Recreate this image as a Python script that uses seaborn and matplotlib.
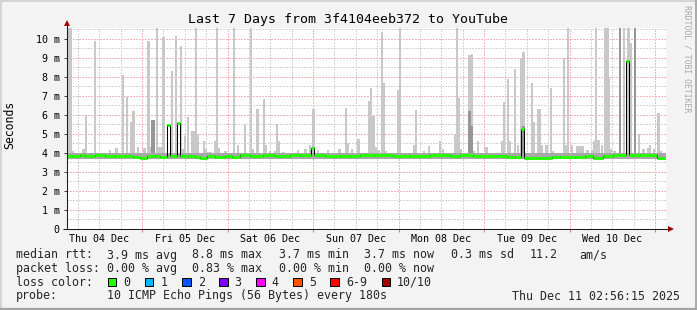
import numpy as np
import matplotlib
matplotlib.use("Agg")
import matplotlib.pyplot as plt
from matplotlib.patches import Rectangle
import seaborn as sns

# ---------------- data ----------------
title = "Last 7 Days from 3f4104eeb372 to YouTube"
day_labels = ["Thu 04 Dec", "Fri 05 Dec", "Sat 06 Dec", "Sun 07 Dec",
              "Mon 08 Dec", "Tue 09 Dec", "Wed 10 Dec"]
window_hours = 168.0            # 7 days, starting Thu 04 Dec 02:56:15
first_midnight_h = 21.0625      # Fri 05 Dec 00:00 in hours since start
y_max_ms = 10.56
y_tick_values = list(range(0, 11))
y_tick_labels = ["0"] + [f"{v} m" for v in range(1, 11)]

# median rtt (ms), step series: value holds from hour[i] to hour[i+1]
median_hours = [0, 1.4, 3.6, 5.0, 7.9, 10.7, 13.5, 16.3, 18.5, 20.5,
                22.5, 24.7, 26.1, 28.0, 28.9, 30.8, 31.7, 34.0, 35.9, 37.3,
                39.3, 41.5, 44.4, 46.3, 48.6, 51.4, 55.0, 58.4, 62.6, 65.4,
                68.5, 69.3, 72.4, 76.6, 79.4, 82.2, 86.5, 91.5, 96.3, 101.9,
                107.5, 110.3, 114.0, 118.7, 123.5, 125.8, 127.4, 128.3, 132.8, 136.1,
                138.4, 142.6, 145.4, 147.7, 150.5, 153.3, 155.2, 156.9, 157.8, 160.8,
                163.6, 165.6, 166.7, 168.0]
median_ms = [3.80, 3.83, 3.88, 3.82, 3.86, 3.84, 3.80, 3.85, 3.76, 3.74,
             3.80, 3.81, 3.79, 5.46, 3.80, 5.55, 3.80, 3.82, 3.79, 3.73,
             3.80, 3.79, 3.82, 3.78, 3.86, 3.84, 3.86, 3.82, 3.88, 3.86,
             4.25, 3.86, 3.84, 3.83, 3.85, 3.86, 3.88, 3.85, 3.84, 3.86,
             3.85, 3.88, 3.83, 3.85, 3.78, 3.76, 5.23, 3.73, 3.74, 3.76,
             3.78, 3.79, 3.80, 3.71, 3.82, 3.86, 3.88, 8.80, 3.90, 3.88,
             3.87, 3.74, 3.70, 3.70]

# smoke: light-grey outliers (start hour, end hour, highest ping in ms)
smoke_start_h = [0.14, 1.40, 4.21, 4.97, 7.66, 11.70, 13.47, 15.30, 16.50, 17.68,
                 18.25, 19.65, 21.33, 22.37, 23.16, 24.90, 25.54, 26.58, 29.10, 30.23,
                 31.72, 32.28, 32.84, 33.77, 34.90, 35.85, 35.93, 38.10, 38.67, 39.20,
                 41.26, 41.82, 42.39, 44.07, 46.51, 47.80, 49.68, 51.37, 51.93, 53.19,
                 54.88, 55.44, 56.70, 58.10, 58.67, 59.23, 60.35, 64.48, 66.53, 67.85,
                 68.77, 70.26, 73.07, 76.07, 78.12, 78.68, 79.80, 81.49, 84.49, 85.05,
                 85.61, 86.54, 87.10, 88.06, 88.62, 89.35, 92.77, 93.19, 97.04, 97.60,
                 100.00, 101.33, 104.34, 105.26, 108.63, 109.19, 109.75, 110.32, 112.56, 113.32,
                 113.88, 115.00, 117.42, 121.74, 122.30, 123.60, 124.16, 125.47, 126.23, 127.16,
                 127.72, 130.33, 130.90, 132.01, 132.97, 134.26, 135.58, 136.14, 139.14, 139.71,
                 140.27, 141.56, 142.88, 145.68, 147.00, 147.56, 148.13, 148.69, 149.98, 150.74,
                 152.06, 152.42, 153.18, 155.98, 157.11, 158.04, 160.28, 161.40, 162.72, 163.45,
                 164.57, 165.70, 166.46]
smoke_end_h = [1.40, 1.96, 4.97, 5.53, 8.14, 12.27, 14.32, 16.00, 17.04, 18.25,
               19.00, 20.20, 22.17, 23.16, 23.58, 25.54, 26.58, 27.42, 29.67, 30.80,
               32.28, 32.84, 33.40, 34.33, 35.85, 36.97, 36.41, 38.67, 39.20, 40.70,
               41.82, 42.39, 42.95, 44.83, 47.07, 48.37, 50.25, 51.93, 52.49, 53.90,
               55.44, 56.14, 57.26, 58.67, 59.23, 59.79, 61.20, 65.20, 67.28, 68.41,
               69.53, 70.82, 73.63, 76.83, 78.68, 79.24, 80.37, 82.25, 85.05, 85.61,
               86.54, 87.10, 87.86, 88.62, 89.35, 89.91, 93.19, 93.84, 97.60, 98.16,
               100.58, 101.89, 104.90, 105.82, 109.19, 109.75, 110.32, 110.88, 113.32, 113.88,
               114.61, 115.57, 118.18, 122.30, 122.86, 124.16, 124.72, 126.04, 126.79, 127.72,
               128.48, 130.90, 131.45, 132.97, 133.53, 135.02, 136.14, 136.70, 139.71, 140.27,
               141.00, 142.12, 145.12, 146.44, 147.56, 148.13, 148.69, 149.61, 150.54, 152.06,
               152.42, 152.98, 154.10, 156.55, 158.04, 158.60, 160.84, 162.16, 163.45, 164.01,
               165.14, 166.46, 167.02]
smoke_top_ms = [11.0, 4.10, 4.20, 5.95, 9.90, 4.15, 4.25, 8.08, 6.95, 5.60,
                6.20, 4.30, 4.25, 9.90, 4.30, 11.0, 4.30, 10.10, 8.28, 10.14,
                9.60, 4.20, 4.88, 5.90, 5.16, 5.00, 11.0, 4.63, 4.20, 4.05,
                4.60, 11.0, 4.25, 4.10, 11.0, 4.40, 5.50, 11.0, 4.20, 6.30,
                6.85, 4.40, 4.10, 4.10, 5.53, 4.60, 4.05, 4.15, 4.20, 4.40,
                6.32, 4.15, 4.15, 4.20, 6.35, 4.50, 4.20, 4.74, 6.74, 7.42,
                5.93, 4.30, 4.15, 10.35, 7.68, 4.10, 7.30, 11.0, 4.40, 6.25,
                4.10, 4.35, 4.60, 4.20, 5.00, 11.0, 6.88, 4.20, 9.16, 9.20,
                4.10, 4.60, 4.30, 4.60, 6.67, 7.90, 4.60, 8.42, 4.40, 8.98,
                9.30, 7.68, 5.60, 6.28, 4.40, 4.40, 7.40, 4.10, 9.00, 4.40,
                11.0, 4.40, 4.35, 4.15, 4.15, 4.60, 11.0, 4.65, 4.40, 11.0,
                7.98, 4.20, 4.10, 11.0, 11.0, 9.76, 5.00, 4.20, 4.25, 4.40,
                4.20, 6.10, 4.10]

# smoke: darker-grey part (several pings high)
dark_start_h = [23.58, 112.56, 113.32, 127.72, 154.86, 159.16]
dark_end_h = [24.62, 113.32, 113.88, 128.48, 155.42, 159.72]
dark_top_ms = [5.70, 6.20, 5.40, 5.40, 11.0, 11.0]

smoke_floor_ms = 3.66
smoke_band_top_ms = 3.98

stat_rows = [
    ("median rtt:", ["3.9 ms avg", "8.8 ms max", "3.7 ms min", "3.7 ms now", "0.3 ms sd", "11.2", "am/s"]),
    ("packet loss:", ["0.00 % avg", "0.83 % max", "0.00 % min", "0.00 % now"]),
]
loss_labels = ["0", "1", "2", "3", "4", "5", "6-9", "10/10"]
loss_colors = ["#26FF00", "#00B8FF", "#0059FF", "#7E00FF", "#FF00FF", "#FF5500", "#FF0000", "#A10000"]
probe_text = "10 ICMP Echo Pings (56 Bytes) every 180s"
stamp_text = "Thu Dec 11 02:56:15 2025"

# ---------------- styling ----------------
sns.set_theme(style="white")
plt.rcParams["font.family"] = ["DejaVu Sans Mono", "DejaVu Sans"]
plt.rcParams["axes.linewidth"] = 0.72

W, H = 697, 310
L, R, T, B = 67, 665.5, 28, 228.7
BG = "#F3F3F3"
LIGHT = "#C8C8C8"
DARK = "#969696"
BAND = "#A8A8A8"
MAJ = "#F4B6B6"
MIN = "#D4D4D4"
ARROW = "#A00000"

fig = plt.figure(figsize=(W / 100, H / 100), dpi=100, facecolor=BG)
ax = fig.add_axes([L / W, 1 - B / H, (R - L) / W, (B - T) / H])
ax.set_facecolor("white")

# grid (drawn beneath the smoke), 1px dotted
dot = (0, (1.4, 1.4))
for v in np.arange(0.5, 10.6, 1.0):
    ax.axhline(v, color=MIN, lw=0.72, ls=dot, zorder=0.5, antialiased=False)
for v in range(1, 11):
    ax.axhline(v, color=MAJ, lw=0.72, ls=dot, zorder=0.6, antialiased=False)
midnights = [first_midnight_h + 24 * k for k in range(7)]
six_h = [first_midnight_h - 18 + 6 * k for k in range(28)]
for h in six_h:
    if min(abs(h - m) for m in midnights) > 0.1 and 0 < h < window_hours:
        ax.axvline(h, color=MIN, lw=0.72, ls=dot, zorder=0.5, antialiased=False)
for h in midnights:
    ax.axvline(h, color=MAJ, lw=0.72, ls=dot, zorder=0.6, antialiased=False)

# smoke
s0 = np.array(smoke_start_h); s1 = np.array(smoke_end_h); st = np.array(smoke_top_ms)
ax.bar(s0, st - smoke_floor_ms, width=s1 - s0, bottom=smoke_floor_ms,
       align="edge", color=LIGHT, linewidth=0, zorder=1)
d0 = np.array(dark_start_h); d1 = np.array(dark_end_h); dt = np.array(dark_top_ms)
ax.bar(d0, dt - smoke_floor_ms, width=d1 - d0, bottom=smoke_floor_ms,
       align="edge", color=DARK, linewidth=0, zorder=1.2)
ax.fill_between([0, window_hours], smoke_floor_ms, smoke_band_top_ms,
                color=BAND, linewidth=0, zorder=1.4)

# median: thin black line + loss-coloured thick segments
sns.lineplot(x=median_hours, y=median_ms, drawstyle="steps-post",
             color="black", lw=0.75, ax=ax, zorder=3)
ax.hlines(median_ms[:-1], median_hours[:-1], median_hours[1:],
          color=loss_colors[0], lw=2.2, zorder=4)

ax.set_xlim(0, window_hours)
ax.set_ylim(0, y_max_ms)
ax.set_xlabel(""); ax.set_ylabel("")
for s in ax.spines.values():
    s.set_visible(False)

ax.set_yticks(y_tick_values)
ax.set_yticklabels(y_tick_labels)
ax.tick_params(axis="y", length=2.2, width=0.72, color="#404040", pad=3.0,
               labelsize=7.2, labelcolor="black", left=True)
noons = [first_midnight_h - 12 + 24 * k for k in range(7)]
ax.set_xticks(noons)
ax.set_xticklabels(day_labels)
ax.set_xticks(midnights, minor=True)
ax.tick_params(axis="x", which="major", length=0, pad=3.6, labelsize=7.2, labelcolor="black")
ax.tick_params(axis="x", which="minor", length=2.0, width=0.72, color="#E07070", bottom=True)

# ---------------- overlay in pixel coordinates ----------------
ov = fig.add_axes([0, 0, 1, 1], facecolor="none")
ov.set_xlim(0, W); ov.set_ylim(H, 0); ov.axis("off")

# frame shading
ov.plot([0, W], [0.7, 0.7], color="#D4D4D4", lw=1.4, solid_capstyle="butt")
ov.plot([0.7, 0.7], [0, H], color="#D4D4D4", lw=1.4, solid_capstyle="butt")
ov.plot([W - 1, W - 1], [0, H], color="#ABABAB", lw=1.4, solid_capstyle="butt")
ov.plot([0, W], [H - 1.2, H - 1.2], color="#A4A4A4", lw=1.6, solid_capstyle="butt")

# axes lines with arrows
ov.plot([L, L], [B, 24], color="#1A1A1A", lw=0.75, solid_capstyle="butt")
ov.plot([63, 669], [B, B], color="#1A1A1A", lw=0.75, solid_capstyle="butt")
ov.plot([L], [22.5], marker="^", ms=4.0, color=ARROW, mec=ARROW, mew=0)
ov.plot([670.5], [B], marker=">", ms=4.0, color=ARROW, mec=ARROW, mew=0)

ov.text(347.5, 19, title, ha="center", va="center", fontsize=9.5, color="black")
ov.text(10, 125, "Seconds", rotation=90, ha="center", va="center", fontsize=8.3, color="black")
ov.text(687.5, 5, "RRDTOOL / TOBI OETIKER", rotation=270, ha="center", va="top",
        fontsize=5.9, color="#A8A8A8")

fs = 8.35
row_y = [255, 268.5, 282, 296]
col_x = [107, 192.5, 279, 364.5, 451, 530, 579]
for (head, items), y in zip(stat_rows, row_y[:2]):
    ov.text(16, y, head, ha="left", va="center", fontsize=fs)
    for txt, x in zip(items, col_x):
        ov.text(x, y, txt, ha="left", va="center", fontsize=fs)

ov.text(16, row_y[2], "loss color:", ha="left", va="center", fontsize=fs)
bx = 108.0
for lab, col in zip(loss_labels, loss_colors):
    ov.add_patch(Rectangle((bx, row_y[2] - 4.2), 8.4, 8.4, facecolor=col,
                           edgecolor="black", lw=0.72))
    lx = bx + 15.5
    ov.text(lx, row_y[2], lab, ha="left", va="center", fontsize=fs)
    bx = lx + 6.98 * len(lab) + 14.6

ov.text(16, row_y[3], "probe:", ha="left", va="center", fontsize=fs)
ov.text(107, row_y[3], probe_text, ha="left", va="center", fontsize=fs)
ov.text(680, row_y[3], stamp_text, ha="right", va="center", fontsize=fs)

fig.savefig("out.png", dpi=100, facecolor=BG)
